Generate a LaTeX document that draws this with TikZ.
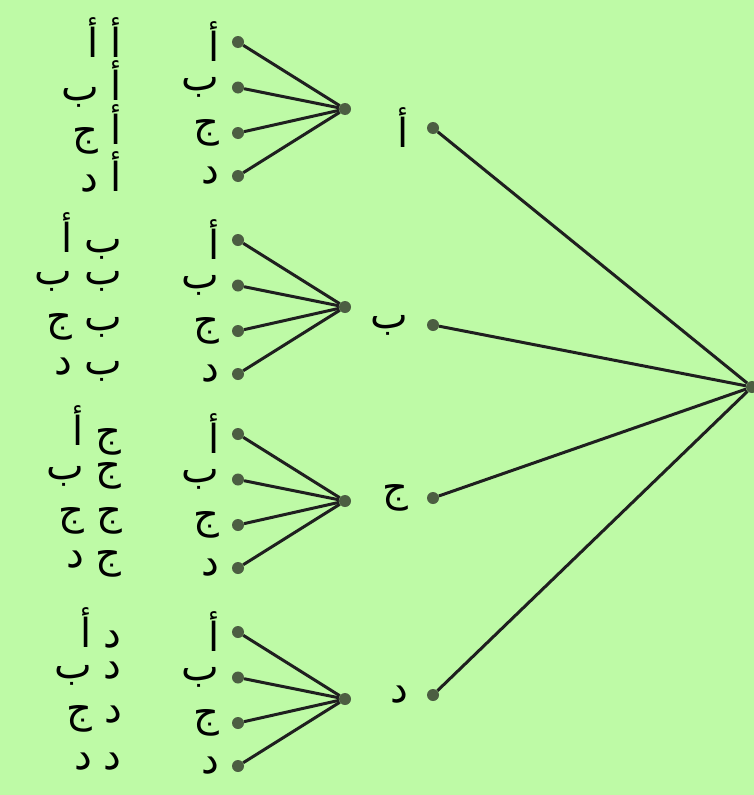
\documentclass[tikz,border=0pt]{standalone}
\usepackage{fontspec}
\newfontfamily\arabicfont[Script=Arabic]{DejaVu Sans}
\TeXXeTstate=1
\usetikzlibrary{positioning}
\definecolor{bggreen}{RGB}{190,250,166}
\definecolor{dotgrey}{RGB}{76,94,66}
\newcommand{\artext}[1]{{\arabicfont\beginR #1\endR}}

\begin{document}
\begin{tikzpicture}[x=1pt, y=-1pt,
    dot/.style={circle, fill=dotgrey, inner sep=0pt, minimum size=12pt},
    lbl/.style={font=\fontsize{40}{44}\selectfont, inner sep=0pt},
    branch/.style={line width=3pt, draw=black!88}]
  % background and fixed margins
  \fill[bggreen] (0,0) rectangle (754,795);
  \useasboundingbox (0,0) rectangle (754,795);
  % root on the right edge
  \node[dot] (root) at (752,387) {};
  % first draw, joined to the root
  \foreach \n/\y/\t in {a/128/أ, b/325/ب, c/498/ج, d/695/د}{
    \node[dot] (f\n) at (433,\y) {};
    \node[lbl, left=18pt of f\n] (fl\n) {\artext{\t}};
    \draw[branch] (f\n) -- (root);
  }
  % second draw: one fan of four per first letter
  \foreach \n/\base/\t in {a/42/أ, b/240/ب, c/434/ج, d/632/د}{
    \node[dot] (s\n) at (345,\base+67) {};
    \foreach \m/\dy/\u in {a/0/أ, b/45.5/ب, c/91/ج, d/134/د}{
      \node[dot] (s\n\m) at (238,\base+\dy) {};
      \node[lbl, left=12pt of s\n\m] (sl\n\m) {\artext{\u}};
      \node[lbl, anchor=east] (pr\n\m) at (122,\base+\dy-4) {\artext{\t\hspace{12pt}\u}};
      \draw[branch] (s\n\m) -- (s\n);
    }
  }
\end{tikzpicture}
\end{document}
